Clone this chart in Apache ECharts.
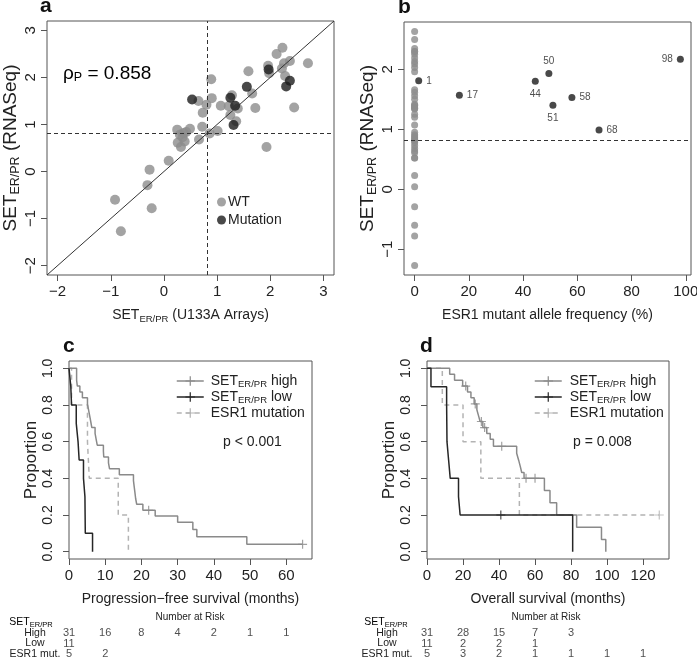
<!DOCTYPE html>
<html><head><meta charset="utf-8">
<script src="https://cdn.jsdelivr.net/npm/echarts@6/dist/echarts.min.js"></script>
<style>html,body{margin:0;padding:0;background:#fff}#c{width:697px;height:659px}</style>
</head><body><div id="c"></div>
<script>
// ---------------- data ----------------
// Panel a / b : SET ER/PR scores
const wtU133 = [-0.92,-0.81,-0.23,-0.31,-0.27,0.09,0.25,0.26,0.32,0.35,0.39,0.42,0.49,0.37,0.30,0.66,0.72,0.73,0.65,0.80,0.89,0.90,0.86,1.01,1.07,1.28,1.22,1.25,1.36,1.39,1.59,1.66,1.72,1.96,1.98,2.12,2.23,2.26,2.22,2.28,2.37,2.45,2.71,1.93];
const wtRNA  = [-0.60,-1.27,-0.78,-0.29,0.04,0.23,0.89,0.61,0.52,0.73,0.64,0.84,0.91,0.82,0.78,0.68,0.95,1.25,1.50,1.42,1.96,1.56,0.81,0.86,1.40,1.62,1.39,1.20,1.07,1.34,2.13,1.66,1.35,2.25,2.09,2.50,2.63,2.30,2.19,2.03,2.35,1.36,2.30,0.52];
const mutU133 = [2.30, 1.25, 1.56, 2.37, 1.34, 0.53, 1.31, 1.97];
const mutRNA  = [1.81, 1.57, 1.80, 1.93, 1.40, 1.53, 0.99, 2.17];
const mutAF   = [1.5, 16.5, 44.5, 49.5, 51, 58, 68, 98];
const mutAFLabel = ['1','17','44','50','51','58','68','98'];
const wtAF = 0;
const threshold = 0.82;
const rhoText = '0.858';
const aTicks = [-2,-1,0,1,2,3];
const bXTicks = [0,20,40,60,80,100];
const bYTicks = [-1,0,1,2];
const kmYTicks = [0,0.2,0.4,0.6,0.8,1.0];
const cXTicks = [0,10,20,30,40,50,60];
const dXTicks = [0,20,40,60,80,100,120];

// Panel c : progression-free survival (Kaplan-Meier steps)
const cHighT = [0,2.1,2.3,3.0,3.7,5.1,5.4,5.7,6.0,6.3,7.2,7.5,7.8,9.5,9.6,10.9,11.2,13.9,17.8,18.0,18.2,18.4,18.7,20.4,23.8,30.0,34.2,35.3,49.1,64.5];
const cHighS = [1,0.935,0.903,0.871,0.839,0.806,0.774,0.742,0.710,0.677,0.645,0.613,0.581,0.548,0.516,0.484,0.452,0.419,0.387,0.355,0.323,0.290,0.258,0.226,0.194,0.161,0.121,0.081,0.040,0.040];
const cHighCens = [[22.0,0.226],[64.5,0.040]];
const cLowT = [0,0.5,0.7,2.0,2.5,2.8,4.0,4.4,4.45,4.5,6.5];
const cLowS = [1,0.9,0.8,0.7,0.6,0.5,0.4,0.3,0.2,0.1,0];
const cMutT = [0,0.7,5.1,5.6,13.6,16.4];
const cMutS = [1,0.8,0.6,0.4,0.2,0];

// Panel d : overall survival
const dHighT = [0,12.6,15.3,19.8,22.5,24.4,26.2,27.7,28.6,29.5,31.0,33.2,35.1,36.9,49.8,50.9,51.8,52.6,53.9,65.2,68.3,72.0,83.1,96.9,99.3];
const dHighS = [1,0.968,0.935,0.903,0.871,0.839,0.806,0.774,0.742,0.710,0.677,0.645,0.613,0.575,0.537,0.499,0.465,0.432,0.400,0.333,0.267,0.200,0.133,0.067,0];
const dHighCens = [[21.5,0.903],[26.8,0.806],[30.2,0.710],[32.0,0.677],[41.5,0.575],[55.0,0.400],[60.0,0.400]];
const dLowT = [0,2.2,10.9,11.0,11.1,12.0,12.9,17.5,18.4,80.9];
const dLowS = [1,0.9,0.8,0.7,0.6,0.5,0.4,0.3,0.2,0];
const dLowCens = [[41.0,0.2]];
const dMutT = [0,8.5,20.0,29.9,51.3,129];
const dMutS = [1,0.8,0.6,0.4,0.2,0.2];
const dMutCens = [[129,0.2]];

// Numbers at risk
const riskRows = ['High','Low','ESR1 mut.'];
const riskTimesC = [0,10,20,30,40,50,60];
const riskHighC = [31,16,8,4,2,1,1];
const riskLowC = [11];
const riskMutC = [5,2];
const riskTimesD = [0,20,40,60,80,100,120];
const riskHighD = [31,28,15,7,3];
const riskLowD = [11,2,2,1];
const riskMutD = [5,3,2,1,1,1,1];

// ---------------- chart ----------------
const F = "'Liberation Sans', Arial, Helvetica, sans-serif";
const TXT = '#222';
const BOX = '#555';
const GRAY = '#8c8c8c', BLACK = '#1c1c1c';
const HIGH = '#8a8a8a', LOW = '#262626', MUT = '#b3b3b3';
const plusPath = 'path://M5,0L5,10M0,5L10,5';

function rich(main, sub, extra) {
  const r = {
    n: {fontSize: main, fontFamily: F, color: TXT, lineHeight: main + 3},
    s: {fontSize: sub, fontFamily: F, color: TXT, lineHeight: sub, verticalAlign: 'bottom'}
  };
  return Object.assign(r, extra || {});
}
const minus = v => (v < 0 ? '\u2212' + Math.abs(v) : String(v));

function valAxis(gi, min, max, ticks, fmt, opts) {
  return Object.assign({
    type: 'value', gridIndex: gi, min: min, max: max,
    axisLine: {show: false, onZero: false},
    axisTick: {show: true, length: 6, lineStyle: {color: BOX, width: 1}, customValues: ticks},
    axisLabel: {show: true, customValues: ticks, formatter: fmt, fontFamily: F, fontSize: 15, color: TXT, margin: 9},
    splitLine: {show: false}
  }, opts || {});
}

function km(T, S) { return T.map((t, i) => [t, S[i]]); }
function kmLine(name, xi, T, S, color, dashed) {
  return {
    type: 'line', name: name, xAxisIndex: xi, yAxisIndex: xi, data: km(T, S), step: 'end',
    showSymbol: false, symbol: plusPath, symbolSize: 9,
    lineStyle: {color: color, width: 1.5, type: dashed ? [5, 4] : 'solid'},
    itemStyle: {color: color, borderColor: color, borderWidth: 1.2},
    z: dashed ? 3 : 4, silent: true
  };
}
function censor(xi, pts, color) {
  return {
    type: 'scatter', xAxisIndex: xi, yAxisIndex: xi, data: pts, symbol: plusPath, symbolSize: 9,
    itemStyle: {color: 'none', borderColor: color, borderWidth: 1.2}, z: 5, silent: true
  };
}
function riskData(times, rows) {
  const out = [];
  rows.forEach((vals, r) => vals.forEach((n, i) => out.push([times[i], riskRows[r], n])));
  return out;
}

const gridBase = {show: true, borderColor: BOX, borderWidth: 1, backgroundColor: '#fff', containLabel: false, outerBoundsMode: 'none'};
const grids = [
  Object.assign({left: 47, top: 21, width: 287, height: 254}, gridBase),
  Object.assign({left: 404, top: 22, width: 287, height: 253}, gridBase),
  Object.assign({left: 69, top: 361, width: 243, height: 198}, gridBase),
  Object.assign({left: 427, top: 361, width: 242, height: 198}, gridBase),
  {left: 69, top: 628, width: 243, height: 31, show: false, outerBoundsMode: 'none'},
  {left: 427, top: 628, width: 242, height: 31, show: false, outerBoundsMode: 'none'}
];

const labelSide = ['right','right','bottom','top','bottom','right','right','left'];
const kmFmt = v => v.toFixed(1);

const legendNames = {
  cHigh: '{f|SET}{s|ER/PR}{n| high}', cLow: '{f|SET}{s|ER/PR}{n| low}', cMut: '{f|ESR1 mutation}',
  dHigh: '{g|SET}{s|ER/PR}{n| high}', dLow: '{g|SET}{s|ER/PR}{n| low}', dMut: '{g|ESR1 mutation}'
};
const legRich = rich(14, 9.5, {
  f: {fontSize: 14, fontFamily: F, color: TXT, lineHeight: 17, padding: [0, 0, 0, 2]},
  g: {fontSize: 14, fontFamily: F, color: TXT, lineHeight: 17, padding: [0, 0, 0, 3]}
});
function kmLegend(names, left) {
  return {
    data: names, orient: 'vertical', left: left, top: 369, itemWidth: 27, itemHeight: 12, itemGap: 0.5,
    selectedMode: false, formatter: n => legendNames[n],
    textStyle: {rich: legRich}, lineStyle: {width: 1.5}, itemStyle: {borderWidth: 1.2}
  };
}
function riskAxis(gi, margin) {
  return {type: 'category', gridIndex: gi, data: riskRows, inverse: true,
    axisLine: {show: false}, axisTick: {show: false}, splitLine: {show: false},
    axisLabel: {show: true, interval: 0, hideOverlap: false, align: 'center', margin: margin, fontSize: 10.5, fontFamily: F, color: TXT}};
}

const option = {
  animation: false,
  backgroundColor: '#fff',
  textStyle: {fontFamily: F},
  grid: grids,
  xAxis: [
    valAxis(0, -2.2, 3.2, aTicks, minus, {
      name: '{n|SET}{s|ER/PR}{n| (U133A Arrays)}', nameLocation: 'middle', nameGap: 32,
      nameTextStyle: {rich: rich(14, 9.5)}}),
    valAxis(1, -3.92, 101.92, bXTicks, v => String(v), {
      name: 'ESR1 mutant allele frequency (%)', nameLocation: 'middle', nameGap: 33,
      nameTextStyle: {fontSize: 14, fontFamily: F, color: TXT}}),
    valAxis(2, 0, 67.1, cXTicks, v => String(v), {
      name: 'Progression\u2212free survival (months)', nameLocation: 'middle', nameGap: 33,
      nameTextStyle: {fontSize: 14, fontFamily: F, color: TXT}}),
    valAxis(3, 0, 134.4, dXTicks, v => String(v), {
      name: 'Overall survival (months)', nameLocation: 'middle', nameGap: 33,
      nameTextStyle: {fontSize: 14, fontFamily: F, color: TXT}}),
    {type: 'value', gridIndex: 4, min: 0, max: 67.1, show: false},
    {type: 'value', gridIndex: 5, min: 0, max: 134.4, show: false}
  ],
  yAxis: [
    valAxis(0, -2.2, 3.2, aTicks, minus, {
      axisLabel: {show: true, customValues: aTicks, formatter: minus, rotate: 90, fontFamily: F, fontSize: 15, color: TXT, margin: 9},
      name: '{n|SET}{s|ER/PR}{n| (RNASeq)}', nameLocation: 'middle', nameRotate: 90, nameGap: 23,
      nameTextStyle: {rich: rich(19, 12.5)}}),
    valAxis(1, -1.43, 2.79, bYTicks, minus, {
      axisLabel: {show: true, customValues: bYTicks, formatter: minus, rotate: 90, fontFamily: F, fontSize: 15, color: TXT, margin: 9},
      name: '{n|SET}{s|ER/PR}{n| (RNASeq)}', nameLocation: 'middle', nameRotate: 90, nameGap: 21,
      nameTextStyle: {rich: rich(19, 12.5)}}),
    valAxis(2, -0.04, 1.04, kmYTicks, kmFmt, {
      axisLabel: {show: true, customValues: kmYTicks, formatter: kmFmt, rotate: 90, fontFamily: F, fontSize: 14, color: TXT, margin: 14},
      name: 'Proportion', nameLocation: 'middle', nameRotate: 90, nameGap: 29,
      nameTextStyle: {fontSize: 17, fontFamily: F, color: TXT}}),
    valAxis(3, -0.04, 1.04, kmYTicks, kmFmt, {
      axisLabel: {show: true, customValues: kmYTicks, formatter: kmFmt, rotate: 90, fontFamily: F, fontSize: 14, color: TXT, margin: 14},
      name: 'Proportion', nameLocation: 'middle', nameRotate: 90, nameGap: 29,
      nameTextStyle: {fontSize: 17, fontFamily: F, color: TXT}}),
    riskAxis(4, 34),
    riskAxis(5, 40)
  ],
  legend: [
    {data: ['WT', 'Mutation'], orient: 'vertical', left: 212, top: 190, icon: 'circle', itemWidth: 9, itemHeight: 9,
      itemGap: 4, selectedMode: false, textStyle: {fontSize: 14, fontFamily: F, color: TXT, padding: [0, 0, 0, -3]}},
    kmLegend(['cHigh', 'cLow', 'cMut'], 171),
    kmLegend(['dHigh', 'dLow', 'dMut'], 529)
  ],
  series: [
    {type: 'scatter', name: 'WT', xAxisIndex: 0, yAxisIndex: 0, symbolSize: 10,
      data: wtU133.map((x, i) => [x, wtRNA[i]]), itemStyle: {color: GRAY}, z: 3,
      markLine: {silent: true, symbol: 'none', label: {show: false}, animation: false,
        data: [
          {xAxis: threshold, lineStyle: {type: [4, 3], color: '#333', width: 1}},
          {yAxis: threshold, lineStyle: {type: [4, 3], color: '#333', width: 1}},
          [{coord: [-2.2, -2.2], lineStyle: {type: 'solid', color: '#333', width: 1}}, {coord: [3.2, 3.2]}]
        ]}},
    {type: 'scatter', name: 'Mutation', xAxisIndex: 0, yAxisIndex: 0, symbolSize: 10,
      data: mutU133.map((x, i) => [x, mutRNA[i]]), itemStyle: {color: BLACK}, z: 4},
    {type: 'scatter', name: 'bWT', xAxisIndex: 1, yAxisIndex: 1, symbolSize: 7,
      data: wtRNA.map(y => [wtAF, y]), itemStyle: {color: GRAY}, z: 3,
      markLine: {silent: true, symbol: 'none', label: {show: false}, animation: false,
        data: [{yAxis: threshold, lineStyle: {type: [4, 3], color: '#333', width: 1}}]}},
    {type: 'scatter', name: 'bMut', xAxisIndex: 1, yAxisIndex: 1, symbolSize: 7,
      data: mutAF.map((x, i) => ({value: [x, mutRNA[i]], label: {position: labelSide[i]}})),
      itemStyle: {color: BLACK}, z: 4,
      label: {show: true, formatter: p => mutAFLabel[p.dataIndex], fontSize: 10, fontFamily: F, color: TXT, distance: 4}},
    kmLine('cHigh', 2, cHighT, cHighS, HIGH, false),
    kmLine('cMut', 2, cMutT, cMutS, MUT, true),
    kmLine('cLow', 2, cLowT, cLowS, LOW, false),
    censor(2, cHighCens, HIGH),
    kmLine('dHigh', 3, dHighT, dHighS, HIGH, false),
    kmLine('dMut', 3, dMutT, dMutS, MUT, true),
    kmLine('dLow', 3, dLowT, dLowS, LOW, false),
    censor(3, dHighCens, HIGH),
    censor(3, dLowCens, LOW),
    censor(3, dMutCens, MUT),
    {type: 'scatter', xAxisIndex: 4, yAxisIndex: 4, symbolSize: 1, itemStyle: {color: 'rgba(0,0,0,0)'},
      data: riskData(riskTimesC, [riskHighC, riskLowC, riskMutC]), silent: true,
      label: {show: true, position: 'inside', formatter: p => String(p.value[2]), fontSize: 11, fontFamily: F, color: TXT}},
    {type: 'scatter', xAxisIndex: 5, yAxisIndex: 5, symbolSize: 1, itemStyle: {color: 'rgba(0,0,0,0)'},
      data: riskData(riskTimesD, [riskHighD, riskLowD, riskMutD]), silent: true,
      label: {show: true, position: 'inside', formatter: p => String(p.value[2]), fontSize: 11, fontFamily: F, color: TXT}}
  ],
  graphic: [
    {type: 'text', x: 40, y: 6.5, style: {text: 'a', font: 'bold 21px ' + F, fill: '#111', verticalAlign: 'middle'}},
    {type: 'text', x: 398, y: 7.5, style: {text: 'b', font: 'bold 21px ' + F, fill: '#111', verticalAlign: 'middle'}},
    {type: 'text', x: 63, y: 346, style: {text: 'c', font: 'bold 21px ' + F, fill: '#111', verticalAlign: 'middle'}},
    {type: 'text', x: 420, y: 346, style: {text: 'd', font: 'bold 21px ' + F, fill: '#111', verticalAlign: 'middle'}},
    {type: 'text', x: 63, y: 73.5, style: {text: '{n|\u03c1}{s|P}{n| = ' + rhoText + '}', rich: rich(19, 12.5), verticalAlign: 'middle'}},
    {type: 'text', x: 223, y: 441.7, style: {text: 'p < 0.001', fontSize: 14, fontFamily: F, fill: TXT, verticalAlign: 'middle'}},
    {type: 'text', x: 573, y: 441.7, style: {text: 'p = 0.008', fontSize: 14, fontFamily: F, fill: TXT, verticalAlign: 'middle'}},
    {type: 'text', x: 31, y: 622, style: {text: '{n|SET}{s|ER/PR}', rich: rich(10.5, 7.5), align: 'center', verticalAlign: 'middle'}},
    {type: 'text', x: 386, y: 622, style: {text: '{n|SET}{s|ER/PR}', rich: rich(10.5, 7.5), align: 'center', verticalAlign: 'middle'}},
    {type: 'text', x: 190, y: 617, style: {text: 'Number at Risk', fontSize: 10, fontFamily: F, fill: TXT, align: 'center', verticalAlign: 'middle'}},
    {type: 'text', x: 546, y: 617, style: {text: 'Number at Risk', fontSize: 10, fontFamily: F, fill: TXT, align: 'center', verticalAlign: 'middle'}}
  ]
};

const chart = echarts.init(document.getElementById('c'), null, {renderer: 'canvas'});
chart.setOption(option);
</script>
</body></html>
